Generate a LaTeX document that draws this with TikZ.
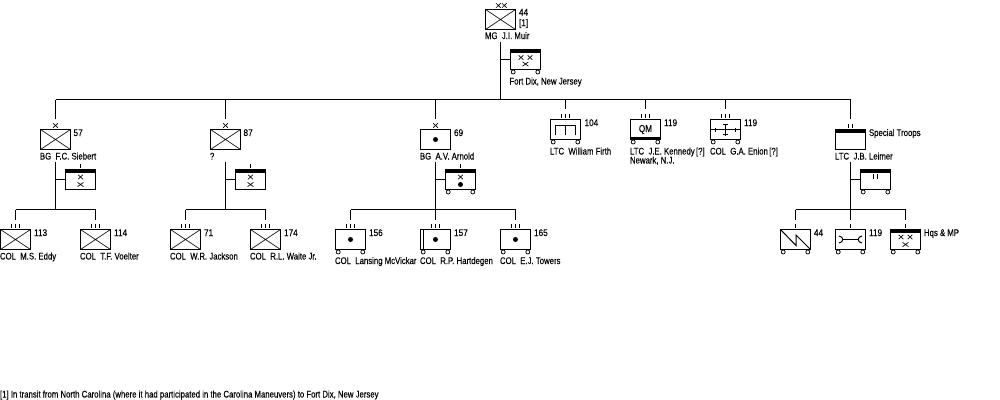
\documentclass[tikz,border=0pt]{standalone}
\usepackage{fontspec}
\setmainfont[FakeStretch=0.81,FakeBold=0.2]{Liberation Sans}
\newfontfamily\numfont[FakeStretch=0.86,FakeBold=0.2]{Liberation Sans}
\usetikzlibrary{calc}

% marks that sit on a unit box
\newcommand{\wheels}[1]{\foreach \d in {2.7,27.3} \draw[line width=0.55pt] ($(#1.south west)+(\d,2.5)$) circle (2);}
\newcommand{\topbar}[1]{\fill (#1.north west) rectangle ($(#1.north east)+(0,3)$);}
\newcommand{\ticks}[2]{\foreach \d in {#2} \draw ($(#1.north)+(\d,-6)$) -- +(0,4);}
\newcommand{\smallx}[1]{\draw[line width=0.5pt,shift={(#1)}] (-2.3,-2.2)--(2.3,2.2) (-2.3,2.2)--(2.3,-2.2);}
\newcommand{\flatx}[1]{\draw[line width=0.5pt,shift={(#1)}] (-3,-2.2)--(3,2.2) (-3,2.2)--(3,-2.2);}
\newcommand{\crossed}[1]{\draw[line width=0.5pt] (#1.north west)--(#1.south east) (#1.south west)--(#1.north east);}
\newcommand{\blob}[1]{\fill (#1) circle (2.5);}

\begin{document}
\begin{tikzpicture}[x=0.75pt,y=-0.75pt,line width=0.75pt]
	\tikzstyle{Unit} = [draw,rectangle,inner sep=0,outer sep=0,minimum width=22.5pt,minimum height=15pt,font=\fontsize{7.6pt}{8pt}\selectfont]
	\tikzstyle{Txt} = [inner sep=0,outer sep=0,anchor=base west,font=\fontsize{7.2pt}{8pt}\selectfont]
	\tikzstyle{Num} = [Txt,font=\numfont\fontsize{7.2pt}{8pt}\selectfont]
	\useasboundingbox (0,0) rectangle (1000,400);

	% corps
	\node[Unit] (corps) at (500.5,19.5) {};
	\crossed{corps}
	\smallx{498.3,5.5}
	\smallx{504.3,5.5}
	\node[Num] (corpsNum) at (519,15.5) {44};
	\node[Num] (corpsNote) at (519,26) {[1]};
	\node[Txt] (corpsCdr) at (485,39) {MG\ \ J.I. Muir};
	\node[Unit] (corpsHq) at (525.5,59.5) {};
	\topbar{corpsHq}
	\wheels{corpsHq}
	\smallx{521,57.5}
	\smallx{530,57.5}
	\flatx{525.5,64}
	\node[Txt] (corpsPost) at (509.5,84.5) {Fort Dix, New Jersey};

	% main bus
	\coordinate (bus) at (500.5,99.5);
	\draw ($(corps.south)+(0,12.5)$) -- (bus);
	\draw (corpsHq.west) -- (corpsHq.west -| bus);

	% brigades
	\node[Unit] (bdeA) at (55.5,139.5) {};
	\crossed{bdeA}
	\smallx{55.5,125.5}
	\node[Num] (bdeANum) at (73.5,136) {57};
	\node[Txt] (bdeACdr) at (40,159.5) {BG\ \ F.C. Siebert};
	\node[Unit] (bdeAHq) at (80.5,179.5) {};
	\topbar{bdeAHq}
	\ticks{bdeAHq}{0}
	\smallx{80.5,177}
	\flatx{80.5,184.5}

	\node[Unit] (bdeB) at (225.5,139.5) {};
	\crossed{bdeB}
	\smallx{225.5,125.5}
	\node[Num] (bdeBNum) at (243.5,136) {87};
	\node[Txt] (bdeBCdr) at (210,159.5) {?};
	\node[Unit] (bdeBHq) at (250.5,179.5) {};
	\topbar{bdeBHq}
	\ticks{bdeBHq}{0}
	\smallx{250.5,177}
	\flatx{250.5,184.5}

	\node[Unit] (bdeC) at (435.5,139.5) {};
	\blob{bdeC}
	\smallx{435.5,125.5}
	\node[Num] (bdeCNum) at (454,136) {69};
	\node[Txt] (bdeCCdr) at (420,159.5) {BG\ \ A.V. Arnold};
	\node[Unit] (bdeCHq) at (460.5,179.5) {};
	\topbar{bdeCHq}
	\ticks{bdeCHq}{0}
	\wheels{bdeCHq}
	\smallx{460.5,177}
	\blob{460.5,184.5}

	% separate regiments
	\node[Unit] (engr) at (565.5,129.5) {};
	\ticks{engr}{-4,0,4}
	\wheels{engr}
	\draw (555.5,135) -- (555.5,125.5) -- (575.5,125.5) -- (575.5,135) (565.5,125.5) -- (565.5,135);
	\node[Num] (engrNum) at (584.5,126) {104};
	\node[Txt] (engrCdr) at (550,154.5) {LTC\ \ William Firth};

	\node[Unit] (qm) at (645.5,129.5) {\raisebox{1.2pt}{QM}};
	\ticks{qm}{-4,0,4}
	\wheels{qm}
	\fill (qm.south west) rectangle ($(qm.south east)+(0,-3)$);
	\node[Num] (qmNum) at (664,126) {119};
	\node[Txt] (qmCdr) at (630,154.5) {LTC\ \ J.E. Kennedy\kern1pt[?]};
	\node[Txt] (qmPost) at (630,163.5) {Newark, N.J.};

	\node[Unit] (sig) at (725.5,129.5) {};
	\ticks{sig}{-4,0,4}
	\wheels{sig}
	\draw (711,129.5) -- (740,129.5) (725.5,123.5) -- (725.5,136);
	\draw (723,124.5) -- (728,124.5) (723,134.5) -- (728,134.5) (715.5,127.5) -- (715.5,132) (735.5,127.5) -- (735.5,132);
	\node[Num] (sigNum) at (744,126) {119};
	\node[Txt] (sigCdr) at (710,154.5) {COL\ \ G.A. Enion\kern1pt[?]};

	\node[Unit] (spec) at (850.5,139.5) {};
	\topbar{spec}
	\ticks{spec}{-2,2}
	\node[Txt] (specNum) at (869,136) {Special Troops};
	\node[Txt] (specCdr) at (835,159.5) {LTC\ \ J.B. Leimer};
	\node[Unit] (specHq) at (875.5,179.5) {};
	\topbar{specHq}
	\wheels{specHq}
	\draw (873.5,174) -- (873.5,178.5) (877.5,174) -- (877.5,178.5);

	% regiments of the brigades
	\node[Unit] (r113) at (15.5,239.5) {};
	\crossed{r113}
	\ticks{r113}{-4,0,4}
	\node[Num] (r113Num) at (34,236) {113};
	\node[Txt] (r113Cdr) at (0,259.5) {COL\ \ M.S. Eddy};
	\node[Unit] (r114) at (95.5,239.5) {};
	\crossed{r114}
	\ticks{r114}{-4,0,4}
	\node[Num] (r114Num) at (114,236) {114};
	\node[Txt] (r114Cdr) at (80,259.5) {COL\ \ T.F. Voelter};

	\node[Unit] (r71) at (185.5,239.5) {};
	\crossed{r71}
	\ticks{r71}{-4,0,4}
	\node[Num] (r71Num) at (204,236) {71};
	\node[Txt] (r71Cdr) at (170,259.5) {COL\ \ W.R. Jackson};
	\node[Unit] (r174) at (265.5,239.5) {};
	\crossed{r174}
	\ticks{r174}{-4,0,4}
	\node[Num] (r174Num) at (284,236) {174};
	\node[Txt] (r174Cdr) at (250,259.5) {COL\ \ R.L. Waite Jr.};

	\node[Unit] (r156) at (350.5,239.5) {};
	\blob{r156}
	\ticks{r156}{-4,0,4}
	\wheels{r156}
	\node[Num] (r156Num) at (369,236) {156};
	\node[Txt] (r156Cdr) at (335,264) {COL\ \ Lansing McVickar};
	\node[Unit] (r157) at (435.5,239.5) {};
	\blob{r157}
	\ticks{r157}{-4,0,4}
	\wheels{r157}
	\draw (423.5,229.5) -- (423.5,249.5);
	\node[Num] (r157Num) at (454,236) {157};
	\node[Txt] (r157Cdr) at (420,264) {COL\ \ R.P. Hartdegen};
	\node[Unit] (r165) at (515.5,239.5) {};
	\blob{r165}
	\ticks{r165}{-4,0,4}
	\wheels{r165}
	\node[Num] (r165Num) at (534,236) {165};
	\node[Txt] (r165Cdr) at (500,264) {COL\ \ E.J. Towers};

	% special troops
	\node[Unit] (bn44) at (795.5,239.5) {};
	\ticks{bn44}{0}
	\wheels{bn44}
	\draw (bn44.north west) -- (796,245.5) -- (796,235) -- (bn44.south east);
	\node[Num] (bn44Num) at (814,236) {44};
	\node[Unit] (bn119) at (850.5,239.5) {};
	\ticks{bn119}{0}
	\wheels{bn119}
	\draw (843,239.5) -- (858,239.5);
	\draw (839,236) .. controls (844,236.5) and (844,242.5) .. (839,243);
	\draw (862,236) .. controls (857,236.5) and (857,242.5) .. (862,243);
	\node[Num] (bn119Num) at (869,236) {119};
	\node[Unit] (hqmp) at (905.5,239.5) {};
	\topbar{hqmp}
	\ticks{hqmp}{0}
	\wheels{hqmp}
	\smallx{901,237}
	\smallx{910,237}
	\flatx{905.5,244.5}
	\node[Txt] (hqmpNum) at (924,236) {Hqs \& MP};

	% connectors
	\draw (bdeA.north |- bus) -- (bus);
	\draw (bus) -- (spec.north |- bus);
	\foreach \u in {bdeA,bdeB,bdeC,engr,qm,sig,spec}
		\draw (\u.north |- bus) -- ($(\u.north)+(0,-11)$);
	\foreach \u/\hq/\l/\r in {bdeA/bdeAHq/r113/r114,bdeB/bdeBHq/r71/r174,bdeC/bdeCHq/r156/r165,spec/specHq/bn44/hqmp} {
		\coordinate (\u bus) at ($(\u.south)+(0,60)$);
		\draw ($(\u.south)+(0,12)$) -- (\u bus);
		\draw (\hq.west) -- (\hq.west -| \u bus);
		\draw (\l.north |- \u bus) -- (\r.north |- \u bus);
	}
	\foreach \u/\v in {r113/bdeA,r114/bdeA,r71/bdeB,r174/bdeB,r156/bdeC,r157/bdeC,r165/bdeC,bn44/spec,bn119/spec,hqmp/spec}
		\draw (\u.north |- \v bus) -- ($(\u.north)+(0,-10)$);

	\node[Txt] (note) at (0,397.5) {[1] In transit from North Carolina (where it had participated in the Carolina Maneuvers) to Fort Dix, New Jersey};
\end{tikzpicture}
\end{document}
